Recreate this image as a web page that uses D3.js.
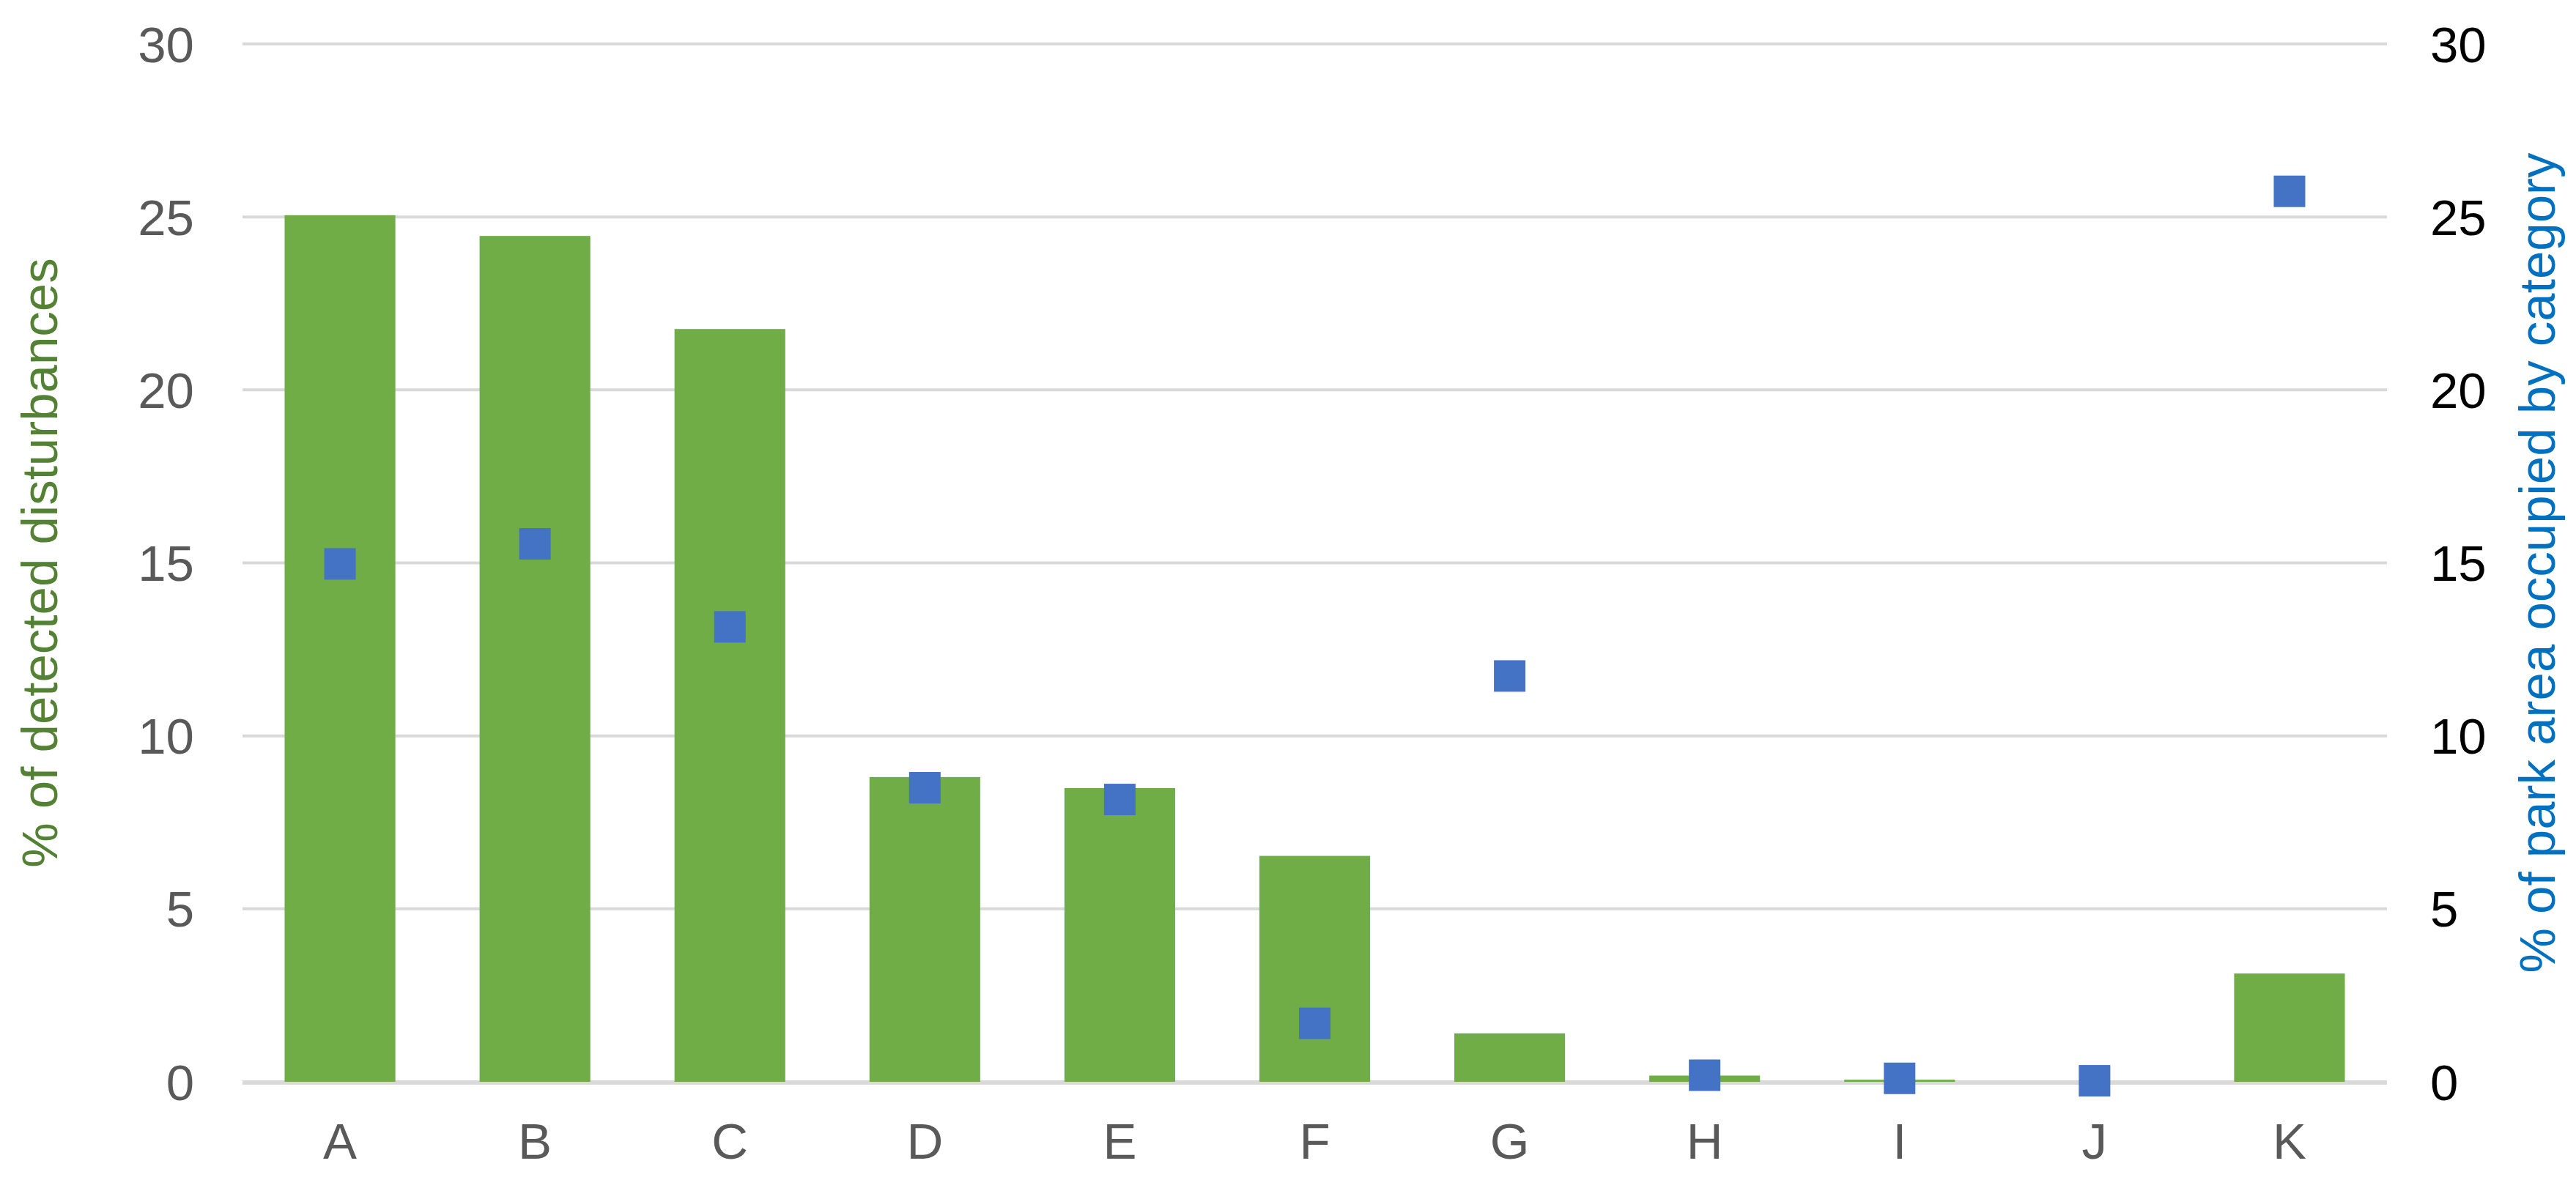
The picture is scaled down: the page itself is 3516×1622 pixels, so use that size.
<!DOCTYPE html>
<html>
<head>
<meta charset="utf-8">
<script src="https://cdn.jsdelivr.net/npm/d3@7"></script>
<style>
  html, body { margin: 0; padding: 0; background: #fff; }
  svg { display: block; }
  text { font-family: "Liberation Sans", Arial, sans-serif; }
</style>
</head>
<body>
<script>
const categories = ["A","B","C","D","E","F","G","H","I","J","K"];
const disturbances = [25.05, 24.45, 21.76, 8.81, 8.49, 6.53, 1.40, 0.18, 0.06, 0, 3.13];
const parkArea = [14.97, 15.55, 13.15, 8.50, 8.16, 1.69, 11.73, 0.19, 0.10, 0.03, 25.74];
const yTicks = [0, 5, 10, 15, 20, 25, 30];
const leftTitle = "% of detected disturbances";
const rightTitle = "% of park area occupied by category";

const W = 3516, H = 1622;
const margin = { left: 331, right: W - 3258, top: 60, bottom: H - 1477 };
const fontSize = 69;

const svg = d3.select("body").append("svg").attr("width", W).attr("height", H);

const x = d3.scaleBand().domain(categories)
  .range([margin.left, W - margin.right])
  .paddingInner(0.432).paddingOuter(0.216);
const yL = d3.scaleLinear().domain([0, 30]).range([H - margin.bottom, margin.top]);
const yR = d3.scaleLinear().domain([0, 30]).range([H - margin.bottom, margin.top]);

// gridlines
svg.append("g").selectAll("line").data(yTicks).join("line")
  .attr("x1", margin.left).attr("x2", W - margin.right)
  .attr("y1", d => yL(d)).attr("y2", d => yL(d))
  .attr("stroke", "#d9d9d9").attr("stroke-width", 4);

// left axis
const leftAxis = svg.append("g").attr("transform", `translate(${margin.left - 66},0)`)
  .call(d3.axisLeft(yL).tickValues(yTicks).tickSize(0).tickPadding(0));
leftAxis.select(".domain").remove();
leftAxis.selectAll("text").attr("font-size", fontSize).attr("fill", "#595959")
  .attr("font-family", "Liberation Sans, Arial, sans-serif").attr("dy", "0.35em");

// right axis
const rightAxis = svg.append("g").attr("transform", `translate(${W - margin.right + 59},0)`)
  .call(d3.axisRight(yR).tickValues(yTicks).tickSize(0).tickPadding(0));
rightAxis.select(".domain").remove();
rightAxis.selectAll("text").attr("font-size", fontSize).attr("fill", "#000000")
  .attr("font-family", "Liberation Sans, Arial, sans-serif").attr("dy", "0.35em");

// bars
svg.append("g").selectAll("rect").data(categories).join("rect")
  .attr("x", d => x(d))
  .attr("width", x.bandwidth())
  .attr("y", (d, i) => yL(disturbances[i]))
  .attr("height", (d, i) => yL(0) - yL(disturbances[i]))
  .attr("fill", "#70ad47");

// baseline gridline on top of bars
svg.append("line")
  .attr("x1", margin.left).attr("x2", W - margin.right)
  .attr("y1", yL(0) + 2).attr("y2", yL(0) + 2)
  .attr("stroke", "#d9d9d9").attr("stroke-width", 4);

// x axis labels
const xAxis = svg.append("g").attr("transform", `translate(0,${yL(0)})`)
  .call(d3.axisBottom(x).tickSize(0).tickPadding(0));
xAxis.select(".domain").remove();
xAxis.selectAll("text").attr("font-size", fontSize).attr("fill", "#595959")
  .attr("font-family", "Liberation Sans, Arial, sans-serif")
  .attr("dy", null).attr("y", 105);

// square markers
const sq = 43;
svg.append("g").selectAll("rect").data(categories).join("rect")
  .attr("x", d => x(d) + x.bandwidth() / 2 - sq / 2)
  .attr("y", (d, i) => yR(parkArea[i]) - sq / 2)
  .attr("width", sq).attr("height", sq)
  .attr("fill", "#4472c4");

// axis titles
const midY = (yL(0) + yL(30)) / 2;
svg.append("text")
  .attr("transform", `translate(78,${midY}) rotate(-90)`)
  .attr("text-anchor", "middle")
  .attr("font-size", fontSize).attr("fill", "#548235")
  .text(leftTitle);
svg.append("text")
  .attr("transform", `translate(3487,${midY}) rotate(-90)`)
  .attr("text-anchor", "middle")
  .attr("font-size", fontSize).attr("fill", "#0070c0")
  .text(rightTitle);
</script>
</body>
</html>
